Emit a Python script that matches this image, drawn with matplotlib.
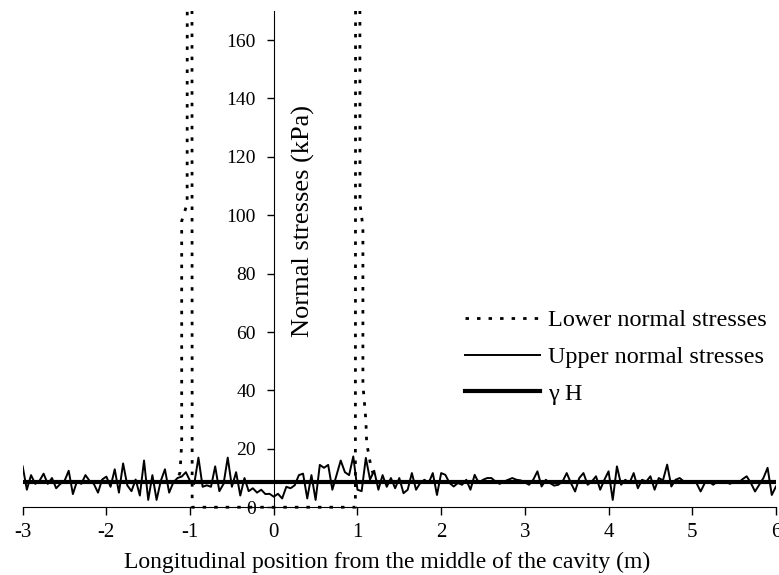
import numpy as np
import matplotlib
matplotlib.use("Agg")
import matplotlib.pyplot as plt

# unit weight x depth (kPa)
gamma_h = 8.5

# upper normal stresses, sampled every 0.05 m from -3 to 6
upper = [
    14, 6, 11, 8, 9, 11.5, 8, 10, 6.5, 8, 9, 12.5, 4.5, 9, 8, 11, 9, 8, 5, 9.5, 10.5,
    7, 13, 5, 15, 7.5, 5.5, 9.5, 4, 16, 2.5, 11, 2.5, 9, 13, 5, 8.5, 10, 10.5, 12, 9,
    8, 17, 7, 7.5, 7, 14, 5.5, 8, 17, 7, 12, 4, 10, 5.5, 6.5, 5, 6, 4.5, 4.6, 3.6,
    4.6, 3, 7, 6.5, 7.5, 11, 11.5, 3, 11, 2.5, 14.5, 13.5, 14.5, 6, 11, 16, 12, 11, 17.4, 6,
    5.5, 16.9, 9.5, 12.5, 6, 11, 7, 10, 6.5, 10,
    4.8, 6, 11.7, 6, 8.3, 9.4, 8.3, 11.7, 4.2, 11.7,
    11.1, 8.3, 7.1, 8.3, 7.7, 9.4, 6, 11.1, 8.3, 9.4, 10, 10, 8.8, 8, 8.8, 9.4, 10, 9.4, 9.2, 8.5,
    7.7, 9.4, 12.3, 7.1, 9.4, 8.3, 7.4, 7.7, 8.8, 11.7, 8.3, 5.4, 10, 11.7, 7.7, 8.8, 10.6, 6, 9.4, 12.3,
    2.5, 14, 7.7, 9.4, 8.3, 11.7, 6.5, 9.4, 8.8, 10.6, 6, 10, 9.2, 14.6, 7.1, 9.4, 10, 8.8, 8.5, 8.8,
    8.3, 5.4, 8.3, 8.8, 7.7, 8.8, 8.3, 8.8, 8, 8.8, 8.3, 9.6, 10.6, 8.3, 5.4, 7.7, 10, 13.5, 4.2, 7.1,
]
upper_x = np.linspace(-3, 6, len(upper))

# lower normal stresses (zero over the cavity, peaks at its edges)
lower_x = [-3.0, -1.16, -1.12, -1.10, -1.10, -1.035, -1.0, -0.975,
           0.975, 1.0, 1.03, 1.065, 1.065, 1.10, 1.11, 1.16, 1.22, 6.0]
lower_y = [8.5, 8.5, 12, 22, 98, 104, 2000, 0,
           0, 2000, 104, 96, 42, 30, 22, 14, 8.5, 8.5]

x_ticks = [-3, -2, -1, 0, 1, 2, 3, 4, 5, 6]
y_ticks = [0, 20, 40, 60, 80, 100, 120, 140, 160]

plt.rcParams["font.family"] = ["Liberation Serif", "DejaVu Serif"]

fig = plt.figure(figsize=(7.79, 5.75), dpi=100)
ax = fig.add_axes([0.0291, 0.1077, 0.9670, 0.8734])

ax.plot(lower_x, lower_y, color="black", lw=2.0, ls=(0, (1.25, 2.9)),
        label="Lower normal stresses", zorder=2)
ax.plot(upper_x, upper, color="black", lw=1.4,
        label="Upper normal stresses", zorder=3)
ax.plot([-3, 6], [gamma_h, gamma_h], color="black", lw=3.0,
        label="γ H", zorder=4)

ax.set_xlim(-3, 6)
ax.set_ylim(-2, 170)
ax.set_xticks(x_ticks)
ax.set_xticklabels([str(v) for v in x_ticks])
ax.set_yticks(y_ticks)

for side in ["top", "right"]:
    ax.spines[side].set_visible(False)
ax.spines["left"].set_position(("data", 0))
ax.spines["bottom"].set_position(("data", 0))
ax.spines["left"].set_bounds(0, 170)
ax.tick_params(axis="y", direction="out", length=5, width=1, pad=8, labelsize=14)
ax.tick_params(axis="x", direction="out", length=6, width=1, pad=5, labelsize=15)

fig.text(303 / 779, 1 - 221 / 575, "Normal stresses (kPa)", rotation=90,
         ha="center", va="center", fontsize=19)
fig.text(387 / 779, 1 - 568 / 575, "Longitudinal position from the middle of the cavity (m)",
         ha="center", va="baseline", fontsize=17)

leg = ax.legend(loc="center left", bbox_to_anchor=(465 / 779, 1 - 357 / 575),
                bbox_transform=fig.transFigure, frameon=False, fontsize=17.5,
                handlelength=3.1, handletextpad=0.33, labelspacing=0.6,
                borderpad=0, borderaxespad=0)

fig.savefig("out.png", dpi=100)
